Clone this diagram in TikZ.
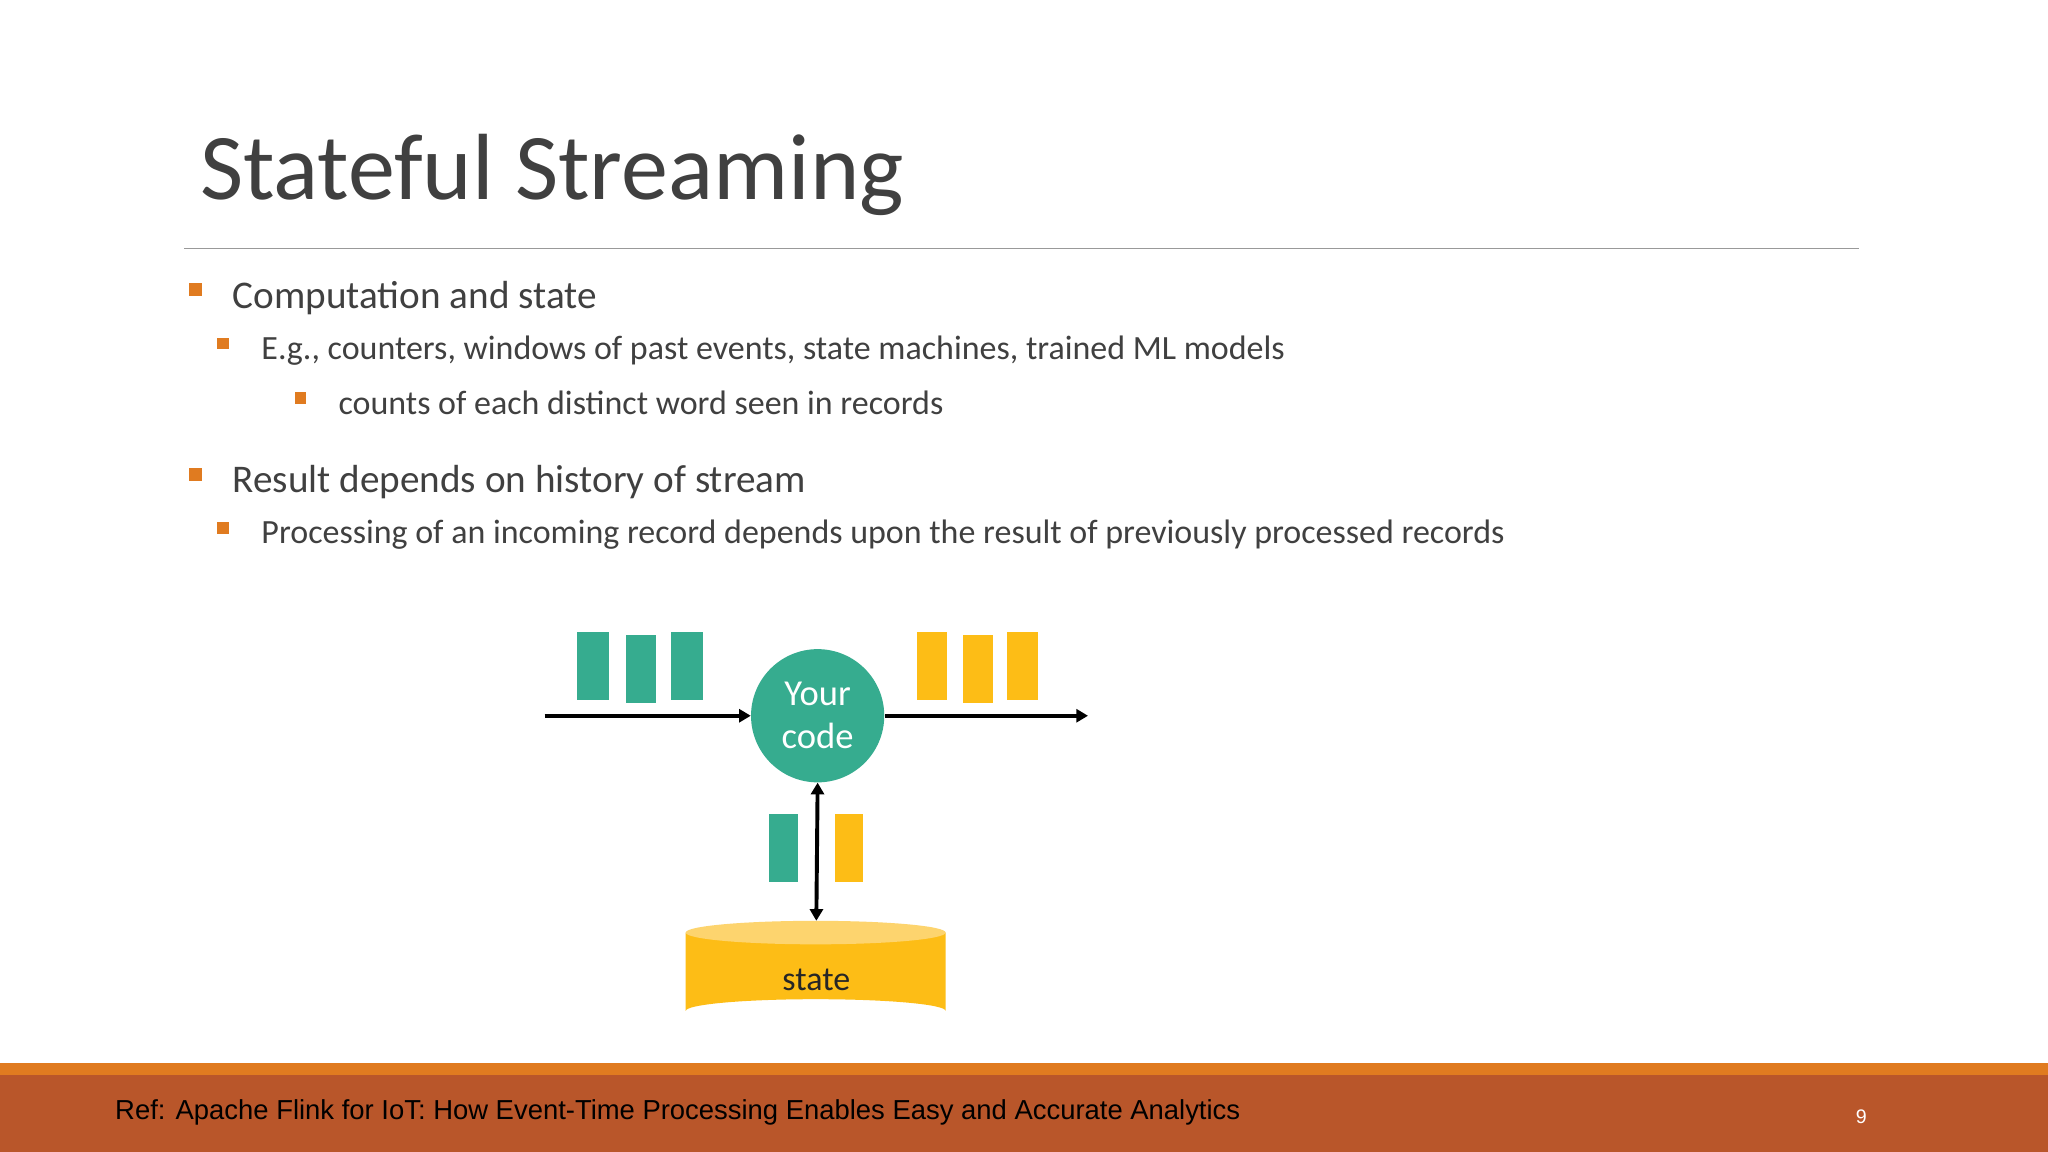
\documentclass[tikz,border=0pt]{standalone}
\usepackage{fontspec}
\setmainfont{Carlito}
\newfontfamily\arialf{Liberation Sans}
\usetikzlibrary{arrows.meta}
\definecolor{tealc}{HTML}{36AC8F}
\definecolor{yelc}{HTML}{FDBD16}
\definecolor{yeltop}{HTML}{FDD46E}
\definecolor{bulc}{HTML}{E07B20}
\definecolor{rustc}{HTML}{B9562A}
\definecolor{txtc}{HTML}{404040}
\tikzset{
  bul/.style={fill=bulc,draw=none,minimum size=10pt,inner sep=0pt},
  lone/.style={anchor=base west,font=\fontsize{30}{36}\selectfont,text=txtc,inner sep=0pt},
  ltwo/.style={anchor=base west,font=\fontsize{26}{31}\selectfont,text=txtc,inner sep=0pt},
  arr/.style={line width=3pt,-{Triangle[length=9pt,width=10pt]}},
  darr/.style={line width=3pt,{Triangle[length=9pt,width=10pt]}-{Triangle[length=9pt,width=10pt]}},
}
\begin{document}
\begin{tikzpicture}[x=1pt,y=-1pt]
\useasboundingbox (0,0) rectangle (1568,882);
\fill[white] (0,0) rectangle (1568,882);
\node[anchor=base west,inner sep=0pt,font=\fontsize{72}{80}\selectfont\addfontfeatures{Color=404040},text=txtc] (title) at (153,153) {Stateful Streaming};
\draw[gray!80,line width=1pt] (141,190) -- (1423,190);
\node[bul] (b1) at (150,222) {};
\node[lone] (t1) at (178,236) {Computation and state};
\node[bul,minimum size=9pt] (b2) at (171,263) {};
\node[ltwo] (t2) at (200,275) {E.g., counters, windows of past events, state machines, trained ML models};
\node[bul,minimum size=9pt] (b3) at (230,305) {};
\node[ltwo] (t3) at (259,317) {counts of each distinct word seen in records};
\node[bul] (b4) at (150,363) {};
\node[lone] (t4) at (178,377) {Result depends on history of stream};
\node[bul,minimum size=9pt] (b5) at (171,404) {};
\node[ltwo] (t5) at (200,416) {Processing of an incoming record depends upon the result of previously processed records};
% diagram
\foreach \a/\b/\c/\d in {442/484/466/536,479/486/502/538,514/484/538/536}{\fill[tealc] (\a,\b) rectangle (\c,\d);}
\foreach \a/\b/\c/\d in {702/484/725/536,737/486/760/538,771/484/795/536}{\fill[yelc] (\a,\b) rectangle (\c,\d);}
\fill[tealc] (589,623) rectangle (611,675);
\fill[yelc] (639,623) rectangle (661,675);
\node[circle,fill=tealc,minimum size=102pt,inner sep=0pt,text=white,align=center,font=\fontsize{28}{33}\selectfont] (code) at (626,548) {Your\\code};
% cylinder
\fill[yelc] (525,714) -- (525,774) arc[start angle=180,end angle=360,x radius=99.5,y radius=9] -- (724,714) -- cycle;
\fill[yeltop] (624.5,714) ellipse[x radius=99.5,y radius=9];
\coordinate (cyltop) at (625,705);
\node[font=\fontsize{26}{31}\selectfont,text=black!85] (st) at (625,750) {state};
\coordinate (in) at (417,548);
\coordinate (out) at (833,548);
\draw[arr] (in) -- (code.west);
\draw[arr] (code.east) -- (out);
\draw[darr] (code.south) -- (cyltop);
% footer
\fill[bulc] (0,814) rectangle (1568,823);
\fill[rustc] (0,823) rectangle (1568,882);
\node[anchor=west,inner sep=0pt,font=\arialf\fontsize{21}{25}\selectfont,text=black] (ref) at (88,852) {Ref: Apache Flink for IoT: How Event-Time Processing Enables Easy and Accurate Analytics};
\node[inner sep=0pt,font=\arialf\fontsize{15}{18}\selectfont,text=white] (pg) at (1425,855) {9};
\end{tikzpicture}
\end{document}
